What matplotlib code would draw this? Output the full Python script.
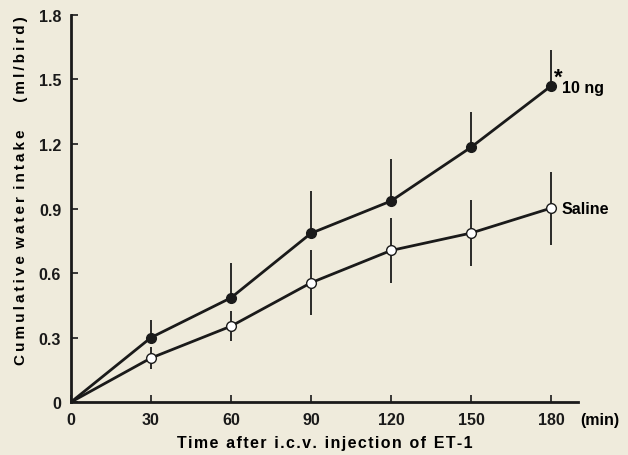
import matplotlib.pyplot as plt
import numpy as np

# cumulative water intake (ml/bird) after i.c.v. ET-1
minutes = [0, 30, 60, 90, 120, 150, 180]
et1_10ng = [0, 0.30, 0.485, 0.785, 0.935, 1.185, 1.47]
et1_err = [0, 0.08, 0.16, 0.195, 0.195, 0.163, 0.165]
saline = [0, 0.205, 0.353, 0.555, 0.705, 0.786, 0.902]
saline_err = [0, 0.05, 0.07, 0.15, 0.15, 0.152, 0.17]

xticks = [0, 30, 60, 90, 120, 150, 180]
yticks = [0, 0.3, 0.6, 0.9, 1.2, 1.5, 1.8]
ytick_labels = ['0', '0.3', '0.6', '0.9', '1.2', '1.5', '1.8']

bg = '#efebdc'
ink = '#1a1a1a'
plt.rcParams['font.family'] = ['Liberation Sans', 'DejaVu Sans']


def spaced(s, gap='\u200a'):
    # loose letter spacing like the typeset original
    words = [gap.join(w) if w else '\u2009' for w in s.split(' ')]
    return (' \u2009').join(words)


fig = plt.figure(figsize=(6.28, 4.56), dpi=100, facecolor=bg)
ax = fig.add_axes([0.113, 0.116, 0.807, 0.849], facecolor=bg)

x = np.array(minutes)
# 10 ng: error bars drawn upward only
ax.errorbar(x[1:], et1_10ng[1:], yerr=[np.zeros(6), et1_err[1:]], fmt='none',
            ecolor=ink, elinewidth=1.3, capsize=0, zorder=2)
ax.errorbar(x[1:], saline[1:], yerr=saline_err[1:], fmt='none',
            ecolor=ink, elinewidth=1.3, capsize=0, zorder=2)
ax.plot(x, et1_10ng, color=ink, lw=2.0, zorder=3)
ax.plot(x, saline, color=ink, lw=2.0, zorder=3)
ax.plot(x[1:], et1_10ng[1:], 'o', ms=7, mfc=ink, mec=ink, zorder=4)
ax.plot(x[1:], saline[1:], 'o', ms=7, mfc='white', mec=ink, mew=1.0, zorder=4)

ax.text(184, et1_10ng[-1] - 0.005, '10 ng', fontsize=11.5, fontweight='bold', va='center', ha='left')
ax.text(180.9, et1_10ng[-1] + 0.04, '*', fontsize=16, fontweight='bold', va='center', ha='left')
ax.text(184, saline[-1], 'Saline', fontsize=11.5, fontweight='bold', va='center', ha='left')

ax.set_xlim(0, 190)
ax.set_ylim(0, 1.8)
ax.set_xticks(xticks)
ax.set_yticks(yticks)
ax.set_yticklabels(ytick_labels)
ax.tick_params(direction='in', length=5, width=1.2, labelsize=11.5, pad=7, colors=ink)
for lab in ax.get_xticklabels() + ax.get_yticklabels():
    lab.set_fontweight('bold')
for side in ['top', 'right']:
    ax.spines[side].set_visible(False)
for side in ['left', 'bottom']:
    ax.spines[side].set_linewidth(2.0)
    ax.spines[side].set_color(ink)

ax.annotate('(min)', xy=(190.8, 0), xytext=(0, -7), textcoords='offset points',
            fontsize=11.5, fontweight='bold', ha='left', va='top', annotation_clip=False)
ax.set_xlabel(spaced('Time after i.c.v. injection of ET-1'),
              fontsize=11.5, fontweight='bold', labelpad=6)
ax.set_ylabel(spaced('Cumulative water intake   (ml/bird)', gap='\u2009'),
              fontsize=11, fontweight='bold')
ax.yaxis.set_label_coords(-0.085, 0.548)

fig.savefig('out.png', dpi=100, facecolor=bg)
